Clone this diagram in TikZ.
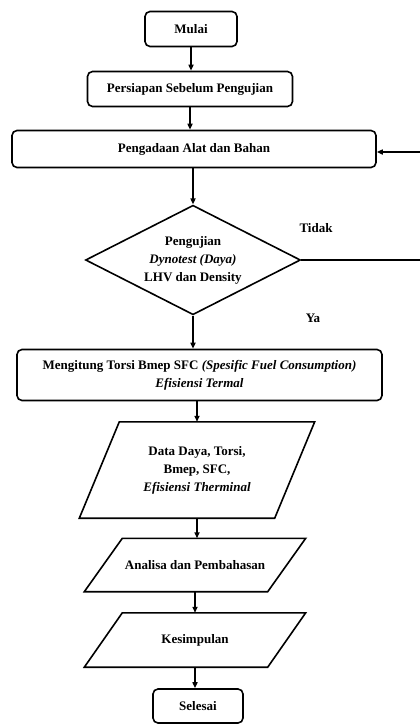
\documentclass[tikz,border=0pt]{standalone}
\usepackage{fontspec}
\setmainfont{Liberation Serif}
\usetikzlibrary{arrows.meta,shapes.geometric}
\tikzset{>/.tip={Triangle[length=6pt,width=5pt]},
  garis/.style={line width=1.6pt},
  proses/.style={draw, garis, rounded corners=5pt, align=center, inner sep=2pt},
  putusan/.style={draw, garis, diamond, aspect=1.58, align=center, inner sep=0pt},
  masukan/.style={align=center, inner sep=2pt},
  alur/.style={->, line width=1.5pt}}
% jajaran genjang di sekeliling node: #1 = nama node, #2 = geser
\newcommand{\jajar}[2]{\draw[garis] ([xshift=#2]#1.north west) -- ([xshift=#2]#1.north east)
  -- ([xshift=-#2]#1.south east) -- ([xshift=-#2]#1.south west) -- cycle;}

\begin{document}
\begin{tikzpicture}[x=1pt, y=-1pt, font=\fontsize{13}{18}\selectfont\bfseries]
\useasboundingbox (0,0) rectangle (420,725);
\node[proses, minimum width=92pt, minimum height=35pt] (mulai) at (191,29) {Mulai};
\node[proses, minimum width=205pt, minimum height=35pt] (persiapan) at (190,89) {Persiapan Sebelum Pengujian};
\node[proses, minimum width=364pt, minimum height=37pt] (pengadaan) at (194,149) {Pengadaan Alat dan Bahan};
\node[putusan, minimum width=215pt] (uji) at (193,260) {Pengujian\\\textit{Dynotest (Daya)}\\LHV dan Density};
\node[proses, minimum width=365pt, minimum height=51pt] (hitung) at (199.5,375)
  {Mengitung Torsi Bmep SFC \textit{(Spesific Fuel Consumption)}\\\textit{Efisiensi Termal}};
\node[masukan, minimum width=195pt, minimum height=96pt] (data) at (197,470)
  {Data Daya, Torsi,\\Bmep, SFC,\\\textit{Efisiensi Therminal}};
\node[masukan, minimum width=183pt, minimum height=53pt] (analisa) at (195,565) {Analisa dan Pembahasan};
\node[masukan, minimum width=183pt, minimum height=54pt] (simpul) at (195,640) {Kesimpulan};
\node[proses, minimum width=90pt, minimum height=34pt] (selesai) at (198,706) {Selesai};
\jajar{data}{20pt}
\jajar{analisa}{19pt}
\jajar{simpul}{19pt}

\node (tidak) at (316,228) {Tidak};
\node (ya) at (313,318) {Ya};

\coordinate (kanan1) at (426,263);
\coordinate (kanan2) at (426,152);

\draw[alur] (mulai.south) -- (mulai.south |- persiapan.north);
\draw[alur] (persiapan.south) -- (persiapan.south |- pengadaan.north);
\draw[alur] (uji.north |- pengadaan.south) -- (uji.north);
\draw[alur] (uji.south) -- (uji.south |- hitung.north);
\draw[alur] (data.north |- hitung.south) -- (data.north);
\draw[alur] (data.south) -- (data.south |- analisa.north);
\draw[alur] (analisa.south) -- (analisa.south |- simpul.north);
\draw[alur] (simpul.south) -- (simpul.south |- selesai.north);
\draw[alur] (uji.east) -- (uji.east -| kanan1) -- (kanan2) -- (pengadaan.east |- kanan2);
\end{tikzpicture}
\end{document}
